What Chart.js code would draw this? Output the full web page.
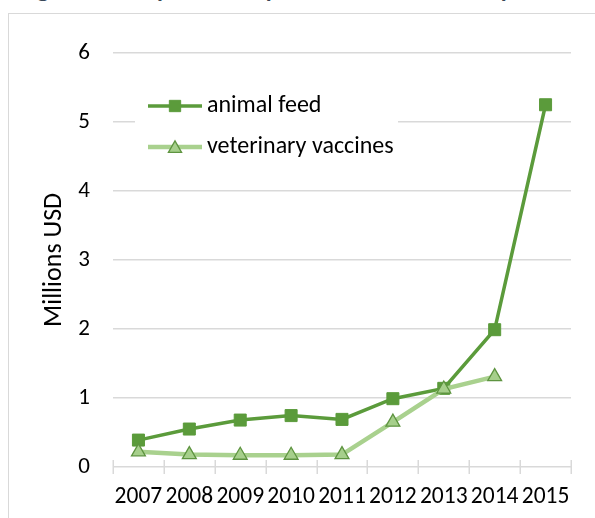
<!DOCTYPE html>
<html>
<head>
<meta charset="utf-8">
<script src="https://cdn.jsdelivr.net/npm/chart.js@4.4.0/dist/chart.umd.min.js"></script>
<style>
  html, body { margin: 0; padding: 0; background: #fff; overflow: hidden; }
  #wrap { position: relative; width: 595px; height: 518px; overflow: hidden; }
  #caption { position: absolute; left: 17px; top: -27px; font: bold 24px Lato, "Open Sans", sans-serif;
             color: #3a4858; white-space: nowrap; line-height: normal; }
  #frame { position: absolute; left: 8px; top: 13px; width: 700px; height: 700px;
           border-left: 1.5px solid #d9d9d9; border-top: 1.5px solid #d9d9d9; }
  canvas { position: absolute; left: 0; top: 0; }
</style>
</head>
<body>
<div id="wrap">
  <div id="caption">Figure 10: Imports of inputs used in livestock production</div>
  <div id="frame"></div>
  <canvas id="chart" width="595" height="518"></canvas>
</div>
<script>
// Years on the horizontal axis
const years = ['2007', '2008', '2009', '2010', '2011', '2012', '2013', '2014', '2015'];
// Import values, millions USD
const animalFeed = [0.39, 0.55, 0.68, 0.745, 0.69, 0.99, 1.14, 1.99, 5.25];
const vetVaccines = [0.22, 0.18, 0.17, 0.17, 0.18, 0.65, 1.13, 1.31, null];
// Series names and value-axis ticks
const seriesNames = ['animal feed', 'veterinary vaccines'];
const yTicks = [0, 1, 2, 3, 4, 5, 6];

const FONT = 'Carlito, Lato, "Open Sans", sans-serif';
const GRID = '#d9d9d9';

// Excel-style tick marks crossing the category axis between years
const crossTicks = {
  id: 'crossTicks',
  afterDraw(chart) {
    const x = chart.scales.x, y = chart.scales.y;
    const y0 = y.getPixelForValue(0);
    const ctx = chart.ctx;
    ctx.save();
    ctx.strokeStyle = GRID;
    ctx.lineWidth = 1.5;
    ctx.beginPath();
    for (let i = 0; i <= years.length; i++) {
      const px = Math.round(x.getPixelForValue(i - 0.5)) + 0.25;
      ctx.moveTo(px, y0 - 7);
      ctx.lineTo(px, y0 + 7);
    }
    ctx.stroke();
    ctx.restore();
  }
};

// Legend drawn inside the plot area, top left
const insideLegend = {
  id: 'insideLegend',
  afterDatasetsDraw(chart) {
    const ctx = chart.ctx;
    const rows = [106, 147];
    ctx.save();
    ctx.fillStyle = '#fff';
    ctx.fillRect(135, 82, 263, 86);
    chart.data.datasets.forEach((ds, i) => {
      const yy = rows[i];
      ctx.strokeStyle = ds.borderColor;
      ctx.lineWidth = ds.borderWidth;
      ctx.beginPath();
      ctx.moveTo(148, yy);
      ctx.lineTo(202, yy);
      ctx.stroke();
      ctx.fillStyle = ds.pointBackgroundColor;
      ctx.strokeStyle = ds.pointBorderColor;
      ctx.lineWidth = ds.pointBorderWidth;
      Chart.helpers.drawPoint(ctx, {
        pointStyle: ds.pointStyle,
        radius: ds.pointStyle === 'rect' ? 8 : 7.6,
        rotation: 0,
        borderWidth: ds.pointBorderWidth
      }, 175, yy + (ds.pointStyle === 'triangle' ? 1.5 : 0));
      ctx.fillStyle = '#000';
      ctx.font = '24px ' + FONT;
      ctx.textAlign = 'left';
      ctx.textBaseline = 'middle';
      ctx.fillText(ds.label, 207, yy);
    });
    ctx.restore();
  }
};

new Chart(document.getElementById('chart'), {
  type: 'line',
  data: {
    labels: years,
    datasets: [
      {
        label: seriesNames[0],
        data: animalFeed,
        borderColor: '#5b9b3b',
        borderWidth: 3.5,
        pointStyle: 'rect',
        pointRadius: 8.5,
        pointBackgroundColor: '#5b9b3b',
        pointBorderColor: '#5b9b3b',
        pointBorderWidth: 1,
        tension: 0,
        order: 1
      },
      {
        label: seriesNames[1],
        data: vetVaccines,
        borderColor: '#a9d18e',
        borderWidth: 4.5,
        pointStyle: 'triangle',
        pointRadius: 8,
        pointBackgroundColor: '#a6cf8b',
        pointBorderColor: '#5e9440',
        pointBorderWidth: 1.3,
        tension: 0,
        spanGaps: false,
        order: 0
      }
    ]
  },
  options: {
    responsive: false,
    animation: false,
    devicePixelRatio: 1,
    layout: { padding: { left: 0, right: 24, top: 53, bottom: 0 } },
    plugins: { legend: { display: false }, tooltip: { enabled: false } },
    scales: {
      x: {
        offset: true,
        grid: { display: false, drawTicks: false },
        border: { display: false },
        ticks: {
          autoSkip: false, maxRotation: 0, minRotation: 0, padding: 16,
          color: '#000', font: { family: FONT, size: 23.5 }
        },
        afterFit(s) { s.height = 51; }
      },
      y: {
        min: 0, max: 6,
        afterBuildTicks(s) { s.ticks = yTicks.map(v => ({ value: v })); },
        grid: { color: GRID, lineWidth: 1.5, drawTicks: false },
        border: { display: false },
        ticks: { padding: 23, color: '#000', font: { family: FONT, size: 23 } },
        title: {
          display: true, text: 'Millions USD', color: '#000',
          font: { family: FONT, size: 26 }, padding: { top: 39, bottom: 0 }
        },
        afterFit(s) { s.width = 113; }
      }
    }
  },
  plugins: [crossTicks, insideLegend]
});
</script>
</body>
</html>
